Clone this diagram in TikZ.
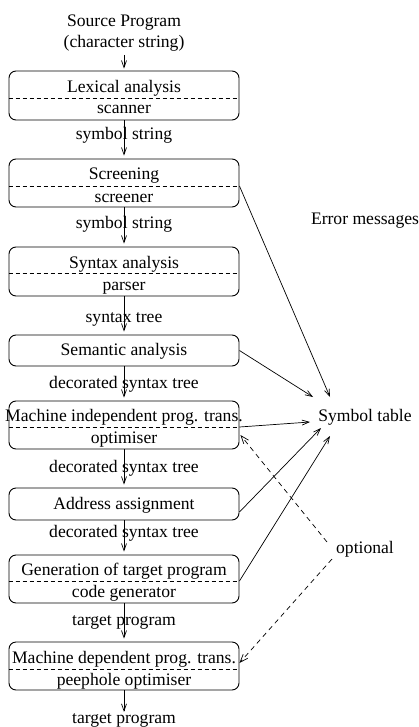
\documentclass[tikz,border=0pt]{standalone}
\usepackage{fontspec}
\setmainfont{Liberation Serif}
\usetikzlibrary{arrows.meta,calc}
\begin{document}
\begin{tikzpicture}[x=1pt,y=-1pt,font=\fontsize{17.6}{21}\selectfont]
\tikzset{
 box/.style={draw, rounded corners=7pt, minimum width=230pt, inner sep=0pt, line width=0.9pt},
 lbl/.style={anchor=base, inner sep=0pt},
 arr/.style={line width=0.7pt, -{Straight Barb[length=7pt,width=5pt]}},
 sepline/.style={dash pattern=on 4pt off 3pt, line width=0.7pt},
 optarr/.style={dash pattern=on 5pt off 4pt, line width=0.7pt, -{Straight Barb[length=8pt,width=6pt]}},
}
\useasboundingbox (0,0) rectangle (419,727);

% top source text
\node[lbl] (src1) at (124,27) {Source Program};
\node[lbl] (src2) at (124,48) {(character string)};

% boxes
\node[box, minimum height=49pt] (lex) at (124,95.5) {};
\node[box, minimum height=48pt] (scr) at (124,183) {};
\node[box, minimum height=49pt] (syn) at (124,271.5) {};
\node[box, minimum height=31pt] (sem) at (124,350.5) {};
\node[box, minimum height=48pt] (mi) at (124,425) {};
\node[box, minimum height=32pt] (addr) at (124,504) {};
\node[box, minimum height=48pt] (gen) at (124,579) {};
\node[box, minimum height=48pt] (md) at (124,666) {};

% box texts
\node[lbl] (lexA) at (124,92.7) {Lexical analysis};
\node[lbl] (lexB) at (124,114) {scanner};
\node[lbl] (scrA) at (124,180) {Screening};
\node[lbl] (scrB) at (124,202.5) {screener};
\node[lbl] (synA) at (124,268) {Syntax analysis};
\node[lbl] (synB) at (124,290) {parser};
\node[lbl] (semA) at (124,355) {Semantic analysis};
\node[lbl] (miA) at (124,421) {Machine independent prog. trans.};
\node[lbl] (miB) at (124,443) {optimiser};
\node[lbl] (addrA) at (124,509) {Address assignment};
\node[lbl] (genA) at (124,575) {Generation of target program};
\node[lbl] (genB) at (124,597) {code generator};
\node[lbl] (mdA) at (124,663) {Machine dependent prog. trans.};
\node[lbl] (mdB) at (124,685) {peephole optimiser};

% dashed separators
\path (lex.west |- 0,98) coordinate (lexL) (lex.east |- 0,98) coordinate (lexR);
\path (scr.west |- 0,186) coordinate (scrL) (scr.east |- 0,186) coordinate (scrR);
\path (syn.west |- 0,273) coordinate (synL) (syn.east |- 0,273) coordinate (synR);
\path (mi.west |- 0,427) coordinate (miL) (mi.east |- 0,427) coordinate (miR);
\path (gen.west |- 0,581) coordinate (genL) (gen.east |- 0,581) coordinate (genR);
\path (md.west |- 0,669) coordinate (mdL) (md.east |- 0,669) coordinate (mdR);
\foreach \b in {lex,scr,syn,mi,gen,md}{
  \draw[sepline] (\b L) -- (\b R);
}

% labels between boxes
\node[lbl] (l1) at (124,140) {symbol string};
\node[lbl] (l2) at (124,228) {symbol string};
\node[lbl] (l3) at (124,322) {syntax tree};
\node[lbl] (l4) at (124,388) {decorated syntax tree};
\node[lbl] (l5) at (124,472) {decorated syntax tree};
\node[lbl] (l6) at (124,537) {decorated syntax tree};
\node[lbl] (l7) at (124,625) {target program};
\node[lbl] (out) at (124,723) {target program};

% chain arrows
\draw[arr, shorten <=3pt, shorten >=2pt] (src2.south) -- (lex.north);
\draw[arr, shorten >=3pt] (lex.south) -- (scr.north);
\draw[arr, shorten >=3pt] (scr.south) -- (syn.north);
\draw[arr, shorten >=3pt] (syn.south) -- (sem.north);
\draw[arr, shorten >=3pt] (sem.south) -- (mi.north);
\draw[arr, shorten >=3pt] (mi.south) -- (addr.north);
\draw[arr, shorten >=3pt] (addr.south) -- (gen.north);
\draw[arr, shorten >=3pt] (gen.south) -- (md.north);
\draw[arr, shorten >=1pt] (md.south) -- (out.north);

% right column
\node[lbl] (err) at (365,225) {Error messages};
\node[lbl] (sym) at (365,421) {Symbol table};
\node[lbl] (opt) at (365,553) {optional};

% arrows to symbol table
\draw[arr] (scrR) -- ($(sym.base)+(-35,-24)$);
\draw[arr] (sem.east) -- ($(sym.base)+(-52,-24)$);
\draw[arr] (miR) -- ($(sym.base)+(-55,1)$);
\draw[arr] ($(addr.east)+(0,8)$) -- ($(sym.base)+(-44,7)$);
\draw[arr] (genR) -- ($(sym.base)+(-35,15)$);

% optional dashed arrows
\draw[optarr] ($(opt.base)+(-38,-11)$) -- ($(mi.east)+(1,10)$);
\draw[optarr] ($(opt.base)+(-33,6)$) -- ($(md.east)+(0,-3)$);
\end{tikzpicture}
\end{document}
